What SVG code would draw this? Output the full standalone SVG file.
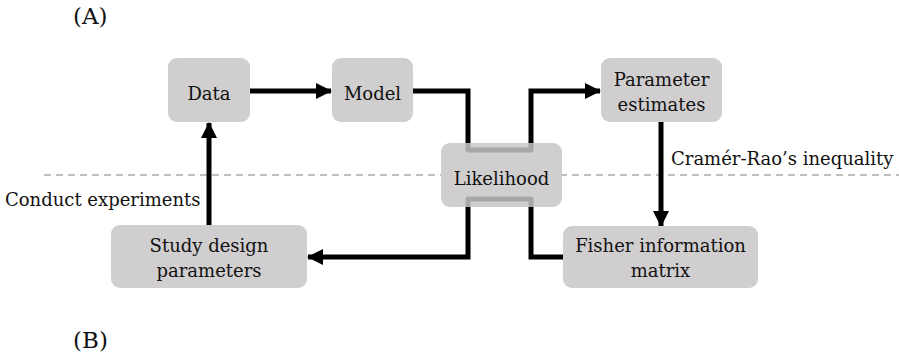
<svg xmlns="http://www.w3.org/2000/svg" width="899" height="357" viewBox="0 0 899 357">
<style>
text{font-family:"DejaVu Serif","Liberation Serif",serif;font-size:18px;fill:#111}
.c{text-anchor:middle}
.box{fill:#d0cece}
.wire{fill:none;stroke:#000;stroke-width:5;stroke-linejoin:miter}
.ghost{fill:none;stroke:#a8a6a6;stroke-width:5;stroke-linejoin:round}
</style>
<defs>
<marker id="ah" markerUnits="userSpaceOnUse" markerWidth="16" markerHeight="16" viewBox="0 0 16 16" refX="15" refY="8" orient="auto">
<path d="M0,0 L16,8 L0,16 z" fill="#000"/>
</marker>
</defs>
<rect width="899" height="357" fill="#fff"/>
<text x="73" y="24" style="font-size:23px">(A)</text>
<text x="73" y="348" style="font-size:23px">(B)</text>
<line x1="44" y1="175" x2="899" y2="175" stroke="#aaa" stroke-width="1.5" stroke-dasharray="7 5"/>
<g id="connectors">
<path class="wire" d="M250,91 H331" marker-end="url(#ah)"/>
<path class="wire" d="M413,91 H468 V150 H531 V91 H600" marker-end="url(#ah)"/>
<path class="wire" d="M661,122 V226" marker-end="url(#ah)"/>
<path class="wire" d="M563,257 H531 V199 H468 V257 H308" marker-end="url(#ah)"/>
<path class="wire" d="M209,225 V123" marker-end="url(#ah)"/>
</g>
<g id="data"><rect class="box" x="168" y="58" width="82" height="64" rx="9"/><text class="c" x="209" y="100">Data</text></g>
<g id="model"><rect class="box" x="332" y="58" width="81" height="64" rx="9"/><text class="c" x="372.5" y="100">Model</text></g>
<g id="parameter-estimates"><rect class="box" x="601" y="58" width="121" height="64" rx="9"/><text class="c" x="661.5" y="86">Parameter</text><text class="c" x="661.5" y="111">estimates</text></g>
<g id="likelihood"><rect class="box" x="441" y="143" width="121" height="64" rx="9"/>
<path class="ghost" d="M468,143 V150 H531 V143"/>
<path class="ghost" d="M468,207 V199 H531 V207"/>
<text class="c" x="501.5" y="185">Likelihood</text></g>
<g id="study-design"><rect class="box" x="111" y="225" width="196" height="63" rx="9"/><text class="c" x="209" y="252">Study design</text><text class="c" x="209" y="277">parameters</text></g>
<g id="fisher"><rect class="box" x="563" y="226" width="195" height="62" rx="9"/><text class="c" x="660.5" y="252">Fisher information</text><text class="c" x="660.5" y="277">matrix</text></g>
<text x="671" y="165">Cramér-Rao’s inequality</text>
<text x="5" y="206">Conduct experiments</text>
</svg>
